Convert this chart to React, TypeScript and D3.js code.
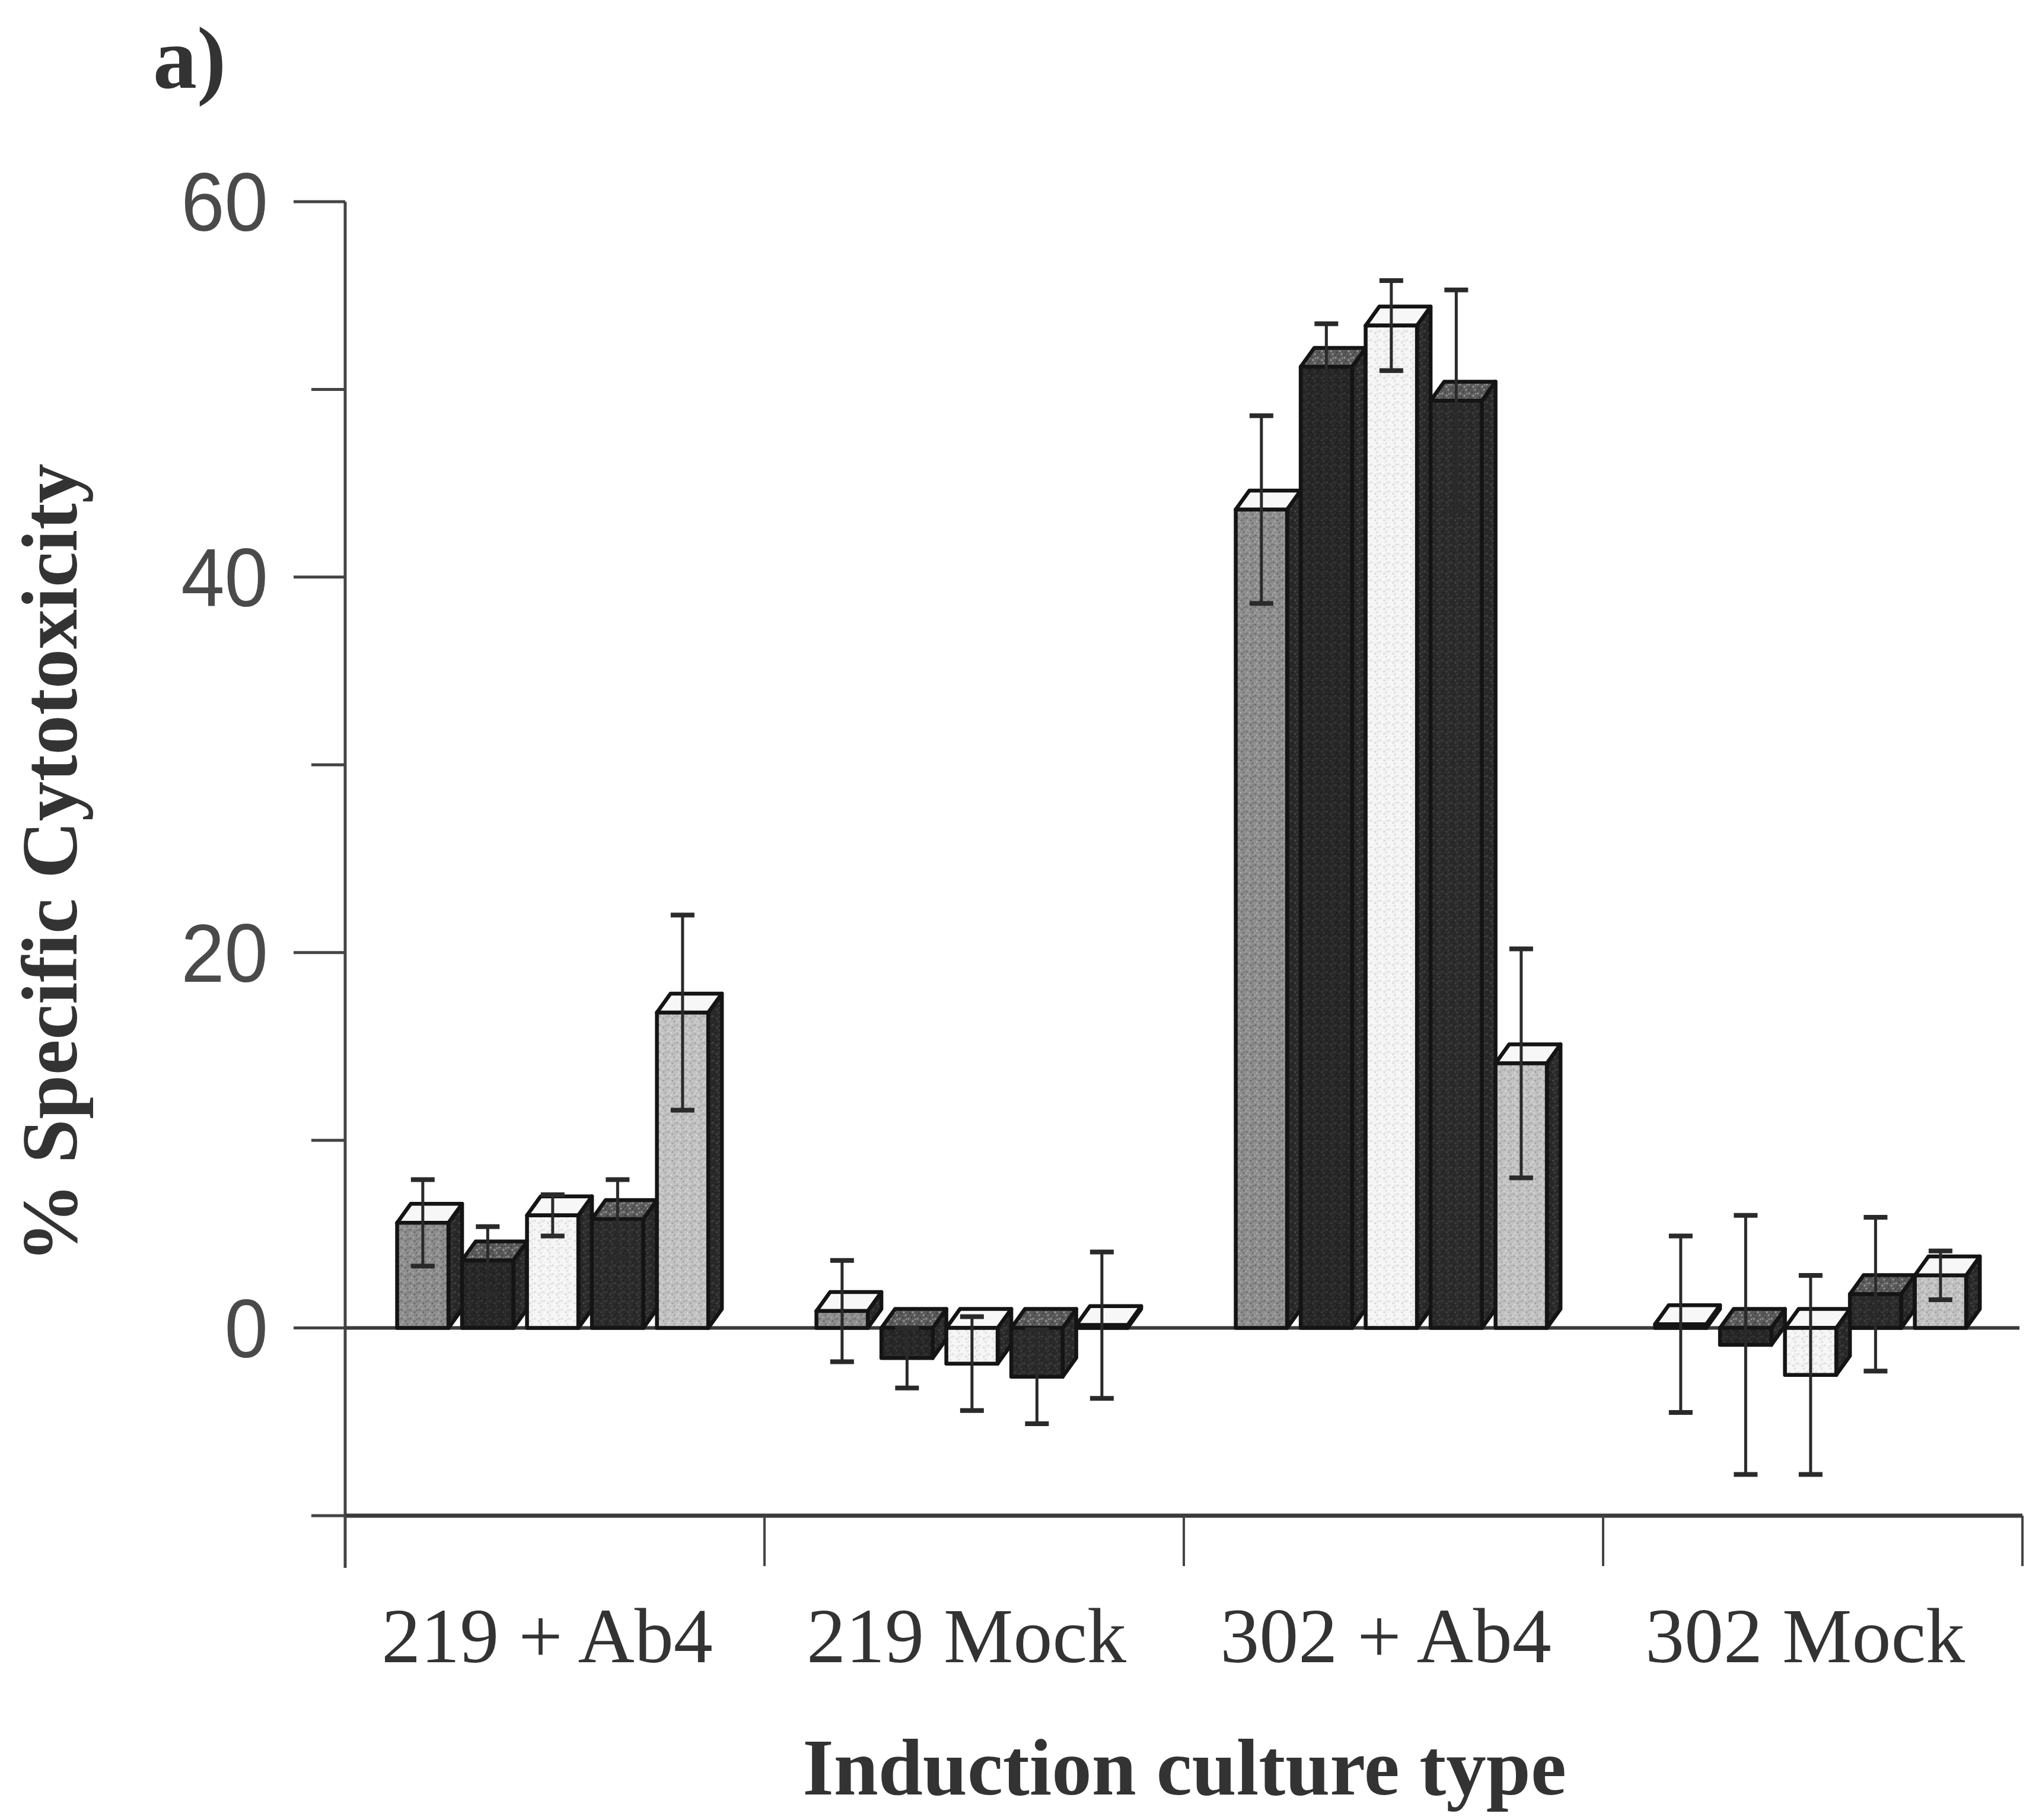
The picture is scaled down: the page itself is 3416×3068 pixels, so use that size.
import React, { useEffect, useRef } from 'react';
import * as d3 from 'd3';

// Categories along the x axis
const categories = ['219 + Ab4', '219 Mock', '302 + Ab4', '302 Mock'];

// Five series per group (left to right), no legend in the original
const seriesKeys = ['s1', 's2', 's3', 's4', 's5'];

// Mean % specific cytotoxicity per series, one value per category
const series1 = [5.6, 0.9, 43.6, 0.2];
const series2 = [3.6, -1.6, 51.2, -0.9];
const series3 = [6.0, -1.9, 53.4, -2.5];
const series4 = [5.8, -2.6, 49.4, 1.8];
const series5 = [16.8, 0.15, 14.1, 2.8];

// Error bar half-lengths
const error1 = [2.3, 2.7, 5.0, 4.7];
const error2 = [1.8, 1.6, 2.3, 6.9];
const error3 = [1.1, 2.5, 2.4, 5.3];
const error4 = [2.1, 2.5, 5.9, 4.1];
const error5 = [5.2, 3.9, 6.1, 1.3];

// Axis ticks
const majorTicks = [0, 20, 40, 60];
const minorTicks = [-10, 10, 30, 50];

export default function App() {
    const svgRef = useRef<SVGSVGElement>(null);

    useEffect(() => {
        if (!svgRef.current) return;
        const svg = d3.select(svgRef.current);
        svg.selectAll('*').remove();

        // Layout
        const axisX = 582;
        const rightX = 3410;
        const DX = 23; // 3d depth offsets
        const DY = 32;

        const y = d3.scaleLinear().domain([-10, 60]).range([2555, 340]);
        const x0 = d3.scaleBand().domain(categories).range([axisX, rightX]);
        const x1 = d3.scaleBand()
            .domain(seriesKeys)
            .range([0, x0.bandwidth()])
            .paddingInner(0.21)
            .paddingOuter(0.833)
            .align(0.48);

        // Stipple patterns for the scanned look
        const defs = svg.append('defs');
        const patterns = [
            { id: 'p1', base: '#8e8e8e', dot: '#6a6a6a', hi: '#b3b3b3' },
            { id: 'p2', base: '#272727', dot: '#3a3a3a', hi: '#1a1a1a' },
            { id: 'p3', base: '#f4f4f4', dot: '#d9d9d9', hi: '#ffffff' },
            { id: 'p4', base: '#2b2b2b', dot: '#404040', hi: '#1c1c1c' },
            { id: 'p5', base: '#c2c2c2', dot: '#a2a2a2', hi: '#e0e0e0' },
            { id: 'pSide', base: '#2a2a2a', dot: '#454545', hi: '#1a1a1a' },
            { id: 'pTopDark', base: '#5a5a5a', dot: '#9a9a9a', hi: '#3a3a3a' },
        ];
        const dotSpots = [[2, 3, 1.6], [7, 1, 1.2], [9, 7, 1.7], [4, 9, 1.3], [12, 12, 1.5], [1, 13, 1.1], [13, 4, 1.2]];
        patterns.forEach(p => {
            const pat = defs.append('pattern')
                .attr('id', p.id)
                .attr('patternUnits', 'userSpaceOnUse')
                .attr('width', 15)
                .attr('height', 15);
            pat.append('rect').attr('width', 15).attr('height', 15).attr('fill', p.base);
            dotSpots.forEach((d, i) => {
                pat.append('circle')
                    .attr('cx', d[0]).attr('cy', d[1]).attr('r', d[2])
                    .attr('fill', i % 2 === 0 ? p.dot : p.hi);
            });
        });
        const frontFill = ['url(#p1)', 'url(#p2)', 'url(#p3)', 'url(#p4)', 'url(#p5)'];
        const topFill = ['#f7f7f7', 'url(#pTopDark)', '#f7f7f7', 'url(#pTopDark)', '#f7f7f7'];

        const ink = '#2a2a2a';

        // Y axis line
        svg.append('line')
            .attr('x1', axisX).attr('x2', axisX)
            .attr('y1', y(60)).attr('y2', 2643)
            .attr('stroke', '#444').attr('stroke-width', 5);

        // Major ticks with labels
        majorTicks.forEach(t => {
            svg.append('line')
                .attr('x1', axisX - 87).attr('x2', axisX)
                .attr('y1', y(t)).attr('y2', y(t))
                .attr('stroke', '#444').attr('stroke-width', 5);
            svg.append('text')
                .attr('transform', `translate(452,${y(t) + 49}) scale(0.95,1)`)
                .attr('text-anchor', 'end')
                .style('font-family', '"Liberation Sans", Arial, sans-serif')
                .style('font-size', '139px')
                .style('fill', '#4a4a4a')
                .text(String(t));
        });

        // Minor ticks
        minorTicks.forEach(t => {
            svg.append('line')
                .attr('x1', axisX - 57).attr('x2', axisX)
                .attr('y1', y(t)).attr('y2', y(t))
                .attr('stroke', '#444').attr('stroke-width', 5);
        });

        // Bottom axis at -10 and zero line
        svg.append('line')
            .attr('x1', axisX).attr('x2', rightX)
            .attr('y1', y(-10)).attr('y2', y(-10))
            .attr('stroke', '#3a3a3a').attr('stroke-width', 7);
        svg.append('line')
            .attr('x1', axisX).attr('x2', rightX - 5)
            .attr('y1', y(0)).attr('y2', y(0))
            .attr('stroke', '#3a3a3a').attr('stroke-width', 6);

        // Category separator ticks
        const bounds = categories.map(c => x0(c) as number).concat([rightX]);
        bounds.forEach(bx => {
            svg.append('line')
                .attr('x1', bx).attr('x2', bx)
                .attr('y1', y(-10)).attr('y2', 2640)
                .attr('stroke', '#444').attr('stroke-width', 4);
        });

        // Bars
        const seriesValues = [series1, series2, series3, series4, series5];
        const errorValues = [error1, error2, error3, error4, error5];
        const rows = categories.flatMap((c, ci) =>
            seriesKeys.map((k, si) => ({
                c, k, si,
                v: seriesValues[si][ci],
                e: errorValues[si][ci],
            }))
        );

        const w = x1.bandwidth();
        const bars = svg.append('g')
            .attr('stroke', '#141414')
            .attr('stroke-width', 6.5)
            .attr('stroke-linejoin', 'round');

        rows.forEach(r => {
            const left = (x0(r.c) as number) + (x1(r.k) as number);
            const top = y(Math.max(r.v, 0));
            const bot = y(Math.min(r.v, 0));
            const g = bars.append('g');
            g.append('path')
                .attr('d', `M${left + w},${top} L${left + w + DX},${top - DY} L${left + w + DX},${bot - DY} L${left + w},${bot} Z`)
                .attr('fill', 'url(#pSide)');
            g.append('path')
                .attr('d', `M${left},${top} L${left + DX},${top - DY} L${left + w + DX},${top - DY} L${left + w},${top} Z`)
                .attr('fill', topFill[r.si]);
            g.append('rect')
                .attr('x', left)
                .attr('y', top)
                .attr('width', w)
                .attr('height', Math.max(bot - top, 1))
                .attr('fill', frontFill[r.si]);
        });

        // Error bars on top
        const errG = svg.append('g').attr('stroke', ink);
        rows.forEach(r => {
            const cx = (x0(r.c) as number) + (x1(r.k) as number) + w / 2;
            const yHi = y(r.v + r.e);
            const yLo = y(r.v - r.e);
            errG.append('line')
                .attr('x1', cx).attr('x2', cx)
                .attr('y1', yHi).attr('y2', yLo)
                .attr('stroke-width', 5);
            [yHi, yLo].forEach(yy => {
                errG.append('line')
                    .attr('x1', cx - 20).attr('x2', cx + 20)
                    .attr('y1', yy).attr('y2', yy)
                    .attr('stroke-width', 8);
            });
        });

        // Category labels
        categories.forEach(c => {
            svg.append('text')
                .attr('x', (x0(c) as number) + x0.bandwidth() / 2 - 13)
                .attr('y', 2802)
                .attr('text-anchor', 'middle')
                .style('font-family', '"Liberation Serif", "Times New Roman", serif')
                .style('font-size', '132px')
                .style('fill', '#333')
                .text(c);
        });

        // Axis titles
        svg.append('text')
            .attr('x', 1997)
            .attr('y', 3025)
            .attr('text-anchor', 'middle')
            .style('font-family', '"Liberation Serif", "Times New Roman", serif')
            .style('font-weight', 'bold')
            .style('font-size', '135px')
            .style('fill', '#333')
            .text('Induction culture type');

        svg.append('text')
            .attr('transform', 'translate(129,1455) rotate(-90)')
            .attr('text-anchor', 'middle')
            .style('font-family', '"Liberation Serif", "Times New Roman", serif')
            .style('font-weight', 'bold')
            .style('font-size', '134px')
            .style('fill', '#333')
            .text('% Specific Cytotoxicity');

        // Panel label
        svg.append('text')
            .attr('x', 258)
            .attr('y', 148)
            .style('font-family', '"Liberation Serif", "Times New Roman", serif')
            .style('font-weight', 'bold')
            .style('font-size', '148px')
            .style('fill', '#333')
            .text('a)');
    }, []);

    return (
        <svg
            ref={svgRef}
            width={3416}
            height={3068}
            style={{ position: 'absolute', left: 0, top: 0, background: '#ffffff' }}
        />
    );
}
